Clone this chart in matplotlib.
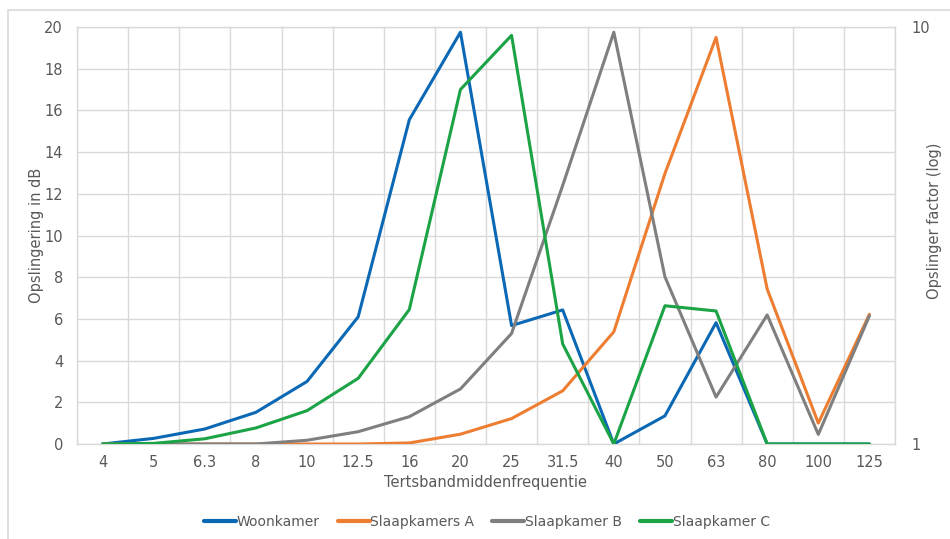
import numpy as np
import matplotlib.pyplot as plt
from matplotlib.patches import Rectangle

plt.rcParams['font.family'] = ['Liberation Sans Narrow', 'DejaVu Sans']

# tertsbanden en opslingering per ruimte (dB)
freqs = ['4', '5', '6.3', '8', '10', '12.5', '16', '20', '25', '31.5',
         '40', '50', '63', '80', '100', '125']
woonkamer = [0, 0.27, 0.72, 1.52, 3.0, 6.1, 15.55, 19.75, 5.68, 6.43,
             0, 1.35, 5.82, 0, 0, 0]
slaapkamers_a = [0, 0, 0, 0, 0, 0, 0.05, 0.47, 1.22, 2.55,
                 5.38, 12.97, 19.5, 7.43, 1.0, 6.22]
slaapkamer_b = [0, 0, 0, 0, 0.18, 0.59, 1.31, 2.64, 5.3, 12.4,
                19.75, 8.02, 2.25, 6.19, 0.46, 6.15]
slaapkamer_c = [0, 0.03, 0.25, 0.77, 1.6, 3.15, 6.45, 17.0, 19.6, 4.8,
                0, 6.63, 6.38, 0, 0, 0]

series = [('Woonkamer', woonkamer, '#0a68b4'),
          ('Slaapkamers A', slaapkamers_a, '#ed7d31'),
          ('Slaapkamer B', slaapkamer_b, '#7f7f7f'),
          ('Slaapkamer C', slaapkamer_c, '#1ba346')]

txt = '#595959'
grid = '#d9d9d9'
W, H = 950, 539

fig = plt.figure(figsize=(9.5, 5.39), dpi=100)
fig.patch.set_facecolor('white')
# chart border
fig.patches.append(Rectangle((8 / W, -0.1), 1.1, 1 - 10 / H + 0.1,
                             transform=fig.transFigure, fill=False,
                             edgecolor=grid, linewidth=1.2))

ax = fig.add_axes([77 / W, 1 - 444 / H, (895 - 77) / W, (444 - 27) / H])
x = np.arange(len(freqs))
for name, vals, col in series:
    ax.plot(x, vals, color=col, linewidth=2.2, label=name,
            solid_joinstyle='round', solid_capstyle='round', zorder=3)

ax.set_xlim(-0.5, len(freqs) - 0.5)
ax.set_ylim(0, 20)
ax.set_yticks(np.arange(0, 21, 2))
ax.set_xticks(x)
ax.set_xticklabels(freqs)
ax.set_xticks(np.arange(-0.5, len(freqs), 1), minor=True)
ax.grid(True, which='minor', axis='x', color=grid, linewidth=1.0)
ax.grid(True, which='major', axis='y', color=grid, linewidth=1.0)
ax.tick_params(axis='both', which='both', length=0, colors=txt, labelsize=10.5)
ax.tick_params(axis='x', pad=8)
ax.tick_params(axis='y', pad=10)
for s in ax.spines.values():
    s.set_color(grid)
    s.set_linewidth(1.0)

ax2 = ax.twinx()
ax2.set_yscale('log')
ax2.set_ylim(1, 10)
ax2.set_yticks([1, 10])
ax2.set_yticklabels(['1', '10'])
ax2.yaxis.set_minor_locator(plt.NullLocator())
ax2.tick_params(axis='y', length=0, colors=txt, labelsize=10.5, pad=12)
for s in ax2.spines.values():
    s.set_visible(False)

fig.text(37 / W, 1 - 235 / H, 'Opslingering in dB', rotation=90,
         ha='center', va='center', color=txt, fontsize=10.5)
fig.text(935 / W, 1 - 221 / H, 'Opslinger factor (log)', rotation=90,
         ha='center', va='center', color=txt, fontsize=10.5)
fig.text(486 / W, 1 - 483 / H, 'Tertsbandmiddenfrequentie',
         ha='center', va='center', color=txt, fontsize=10.5)

leg = fig.legend(loc='center', bbox_to_anchor=(487 / W, 1 - 522 / H), ncol=4,
                 frameon=False, fontsize=10, handlelength=2.3,
                 handletextpad=0.05, columnspacing=1.3, labelcolor=txt)
for h in leg.legend_handles:
    h.set_linewidth(3.0)

fig.savefig('out.png', dpi=100)
